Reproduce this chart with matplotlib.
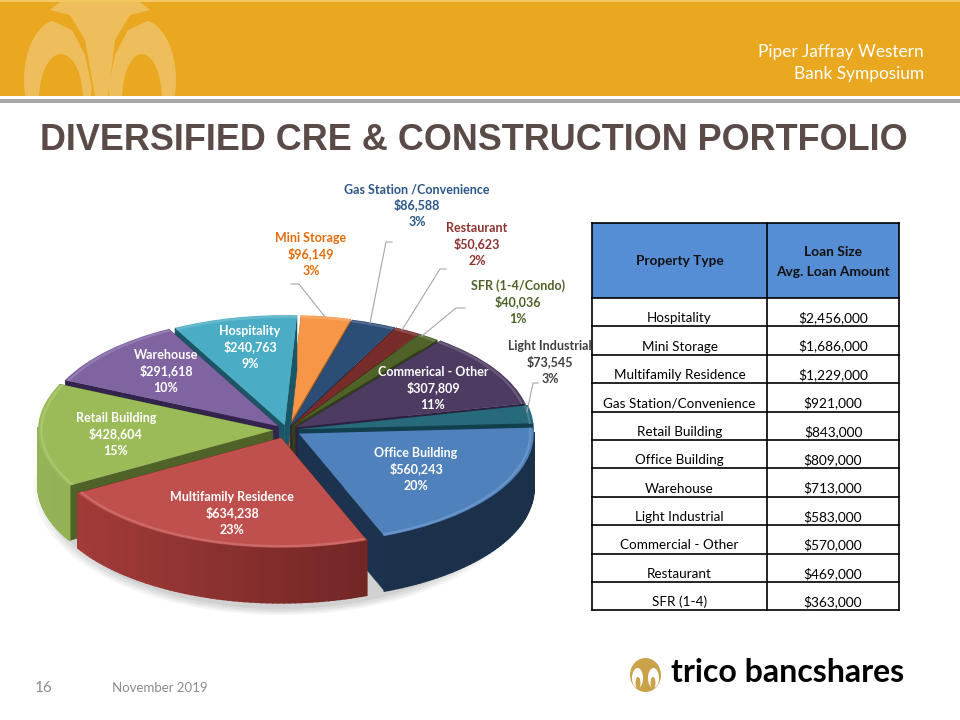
#!/usr/bin/env python3

import numpy as np
import matplotlib
matplotlib.use("Agg")
import matplotlib.pyplot as plt
from matplotlib.patches import Ellipse, Polygon, Rectangle

# pie data, clockwise from 12 o'clock
slice_names = ["Mini Storage", "Gas Station /Convenience", "Restaurant", "SFR (1-4/Condo)",
               "Commerical - Other", "Light Industrial", "Office Building",
               "Multifamily Residence", "Retail Building", "Warehouse", "Hospitality"]
slice_values = [96149, 86588, 50623, 40036, 307809, 73545, 560243, 634238, 428604, 291618, 240763]
slice_pcts = ["3%", "3%", "2%", "1%", "11%", "3%", "20%", "23%", "15%", "10%", "9%"]

# table data
table_types = ["Hospitality", "Mini Storage", "Multifamily Residence", "Gas Station/Convenience",
               "Retail Building", "Office Building", "Warehouse", "Light Industrial",
               "Commercial - Other", "Restaurant", "SFR (1-4)"]
table_amounts = ["$2,456,000", "$1,686,000", "$1,229,000", "$921,000", "$843,000", "$809,000",
                 "$713,000", "$583,000", "$570,000", "$469,000", "$363,000"]

# styles
top_colors = ["#F79646", "#2C4D75", "#772C2A", "#4F6228", "#4D3B62", "#276A7C",
              "#4F81BD", "#C0504D", "#9BBB59", "#8064A2", "#4BACC6"]
wall_colors = ["#B5651D", "#1C3350", "#4F1D1C", "#333F1A", "#2D2040", "#123F4C",
               "#1C3350", "#6E2220", "#4F6228", "#33244D", "#1B5666"]
arc_left = ["#D98030", "#1F3A5C", "#5A1F1E", "#3E4E20", "#35264C", "#1C4E5C",
            "#1C3350", "#A83E3B", "#94B356", "#5F4A80", "#2F7F95"]
arc_right = ["#D98030", "#1F3A5C", "#5A1F1E", "#3E4E20", "#35264C", "#1C4E5C",
             "#1B3049", "#581C1B", "#86A34A", "#5F4A80", "#2F7F95"]
explode = [0.045, 0.04, 0.04, 0.04, 0.045, 0.05, 0.06, 0.075, 0.06, 0.05, 0.045]

label_xy = [(311, 254), (417, 205), (477, 244), (518, 302), (433, 388), (550, 362),
            (416, 469), (232, 513), (116, 434), (166, 371), (250, 347)]
label_colors = ["#E46C0A", "#2A5688", "#8E3230", "#4F6228", "white", "#404040",
                "white", "white", "white", "white", "white"]
leaders = [[(291, 284), (299, 284), (325, 317)],
           [(392, 242), (386, 242), (370, 323)],
           [(446, 269), (440, 269), (402, 330)],
           [(465, 308), (456, 308), (422, 336)],
           [(538, 383), (533, 383), (527, 412)]]

W, H = 960, 720
PIE_X, PIE_Y, RX, RY, DEPTH = 287, 430, 235, 110, 0.5
LINE_GAP = 16.3
GOLD, PALE = "#E9A820", "#EEBD5C"

plt.rcParams["font.family"] = ["Lato", "DejaVu Sans"]
fig = plt.figure(figsize=(9.6, 7.2), dpi=100, facecolor="white")


def pixel_axes(z):
    ax = fig.add_axes([0, 0, 1, 1], zorder=z)
    ax.set_xlim(0, W)
    ax.set_ylim(H, 0)
    ax.axis("off")
    return ax


bg = pixel_axes(0)
pie_ax = fig.add_axes([0, 0, 1, 1], zorder=1)
fg = pixel_axes(2)

# header band with the faded emblem
band = Rectangle((0, 2), W, 94, fc=GOLD, ec="none")
bg.add_patch(band)
bg.add_patch(Rectangle((0, 0), W, 2, fc="#F3C860", ec="none"))
bg.add_patch(Rectangle((0, 99), W, 4, fc="#A6A6A6", ec="none"))
for xy, w, h, col in [((58, 80), 68, 120, PALE), ((142, 80), 68, 120, PALE),
                      ((61, 100), 44, 92, GOLD), ((142, 100), 40, 92, GOLD)]:
    e = Ellipse(xy, w, h, fc=col, ec="none")
    bg.add_patch(e)
    e.set_clip_path(band)
emblem = [([(50, 10), (100, 10), (100, 90), (92, 88), (85, 55), (72, 30), (50, 20)], GOLD),
          ([(150, 10), (100, 10), (100, 90), (108, 88), (115, 55), (128, 30), (150, 20)], GOLD),
          ([(60, 2), (140, 2), (150, 10), (130, 15), (115, 40), (108, 96), (95, 96),
            (85, 40), (70, 15), (50, 10)], PALE)]
for pts, col in emblem:
    bg.add_patch(Polygon(pts, fc=col, ec="none"))
bg.text(924, 57, "Piper Jaffray Western", color="white", fontsize=12.4, ha="right", va="baseline")
bg.text(924, 79, "Bank Symposium", color="white", fontsize=12.4, ha="right", va="baseline")

bg.text(474, 140, "DIVERSIFIED CRE & CONSTRUCTION PORTFOLIO", family="Liberation Sans",
        fontweight="bold", fontsize=25.9, color="#5A4A48", ha="center", va="center")

# pie shadow
for grow, alpha in [(1.05, 0.05), (1.035, 0.06), (1.02, 0.07), (1.0, 0.08)]:
    bg.add_patch(Ellipse((PIE_X - 6, PIE_Y + 58), 2 * RX * grow, 2 * RY * 1.1 * grow,
                         fc="#404040", ec="none", alpha=alpha))

# pie, unit circle squashed by the axes limits
wedges, _ = pie_ax.pie(slice_values, explode=explode, colors=top_colors, startangle=87,
                       counterclock=False, wedgeprops={"edgecolor": "none"})
pie_ax.set_aspect("auto")
pie_ax.set_xlim(-PIE_X / RX, (W - PIE_X) / RX)
pie_ax.set_ylim((PIE_Y - H) / RY, PIE_Y / RY)
pie_ax.patch.set_alpha(0)
pie_ax.axis("off")


def mix(c1, c2, f):
    a, b = np.array(matplotlib.colors.to_rgb(c1)), np.array(matplotlib.colors.to_rgb(c2))
    return tuple(a + (b - a) * f)


mids = [(w.theta1 + w.theta2) / 2 for w in wedges]
order = np.argsort([-np.sin(np.radians(m)) for m in mids])
for rank, i in enumerate(order):
    w = wedges[i]
    z = 2 + rank * 3
    cx, cy = w.center
    w.set_zorder(z + 2)
    # cut faces
    for ang in (w.theta1, w.theta2):
        px = cx + np.cos(np.radians(ang))
        py = cy + np.sin(np.radians(ang))
        pie_ax.add_patch(Polygon([(cx, cy), (px, py), (px, py - DEPTH), (cx, cy - DEPTH)],
                                 fc=wall_colors[i], ec=wall_colors[i], lw=0.3, zorder=z))
    # outer rim, shaded left to right
    ts = np.radians(np.linspace(w.theta1, w.theta2, 60))
    for t0, t1 in zip(ts[:-1], ts[1:]):
        if np.sin((t0 + t1) / 2) > 0.02:
            continue
        f = (1 - np.cos((t0 + t1) / 2)) / 2
        col = mix(arc_right[i], arc_left[i], f)
        x0, x1 = cx + np.cos(t0), cx + np.cos(t1)
        y0, y1 = cy + np.sin(t0), cy + np.sin(t1)
        pie_ax.add_patch(Polygon([(x0, y0), (x1, y1), (x1, y1 - DEPTH), (x0, y0 - DEPTH)],
                                 fc=col, ec=col, lw=1.2, zorder=z + 1))
    # bevel on the top face
    pie_ax.plot(cx + 0.985 * np.cos(ts), cy + 0.985 * np.sin(ts), color=mix(top_colors[i], "white", 0.2),
                lw=1.6, alpha=0.8, zorder=z + 2.5, solid_capstyle="butt")

# pie labels and leader lines, one text per line
for pts in leaders:
    xs, ys = zip(*pts)
    fg.plot(xs, ys, color="#A6A6A6", lw=0.8)
for name, val, pct, (x, y), col in zip(slice_names, slice_values, slice_pcts, label_xy, label_colors):
    for k, line in enumerate([name, f"${val:,}", pct]):
        fg.text(x, y + 4.5 + (k - 1) * LINE_GAP, line, color=col, fontweight="bold", fontsize=9.0,
                ha="center", va="baseline")

# table
TX0, TX1, TX2, HEAD_TOP, HEAD_BOT, ROW_H = 592, 767, 899, 223, 298, 28.4
bg.add_patch(Rectangle((TX0, HEAD_TOP), TX2 - TX0, HEAD_BOT - HEAD_TOP, fc="#558ED5", ec="none"))
bottom = HEAD_BOT + ROW_H * len(table_types)
bg.plot([TX0, TX2], [HEAD_TOP, HEAD_TOP], color="black", lw=1.2)
for r in range(len(table_types) + 1):
    y = HEAD_BOT + r * ROW_H
    bg.plot([TX0, TX2], [y, y], color="black", lw=1.2)
for x in (TX0, TX1, TX2):
    bg.plot([x, x], [HEAD_TOP, bottom], color="black", lw=1.2)
bg.text((TX0 + TX1) / 2, 265, "Property Type", fontweight="bold", fontsize=9.8, color="#111111",
        ha="center", va="baseline")
bg.text((TX1 + TX2) / 2, 256, "Loan Size", fontweight="bold", fontsize=9.9, color="#111111",
        ha="center", va="baseline")
bg.text((TX1 + TX2) / 2, 276, "Avg. Loan Amount", fontweight="bold", fontsize=9.9, color="#111111",
        ha="center", va="baseline")
for r, (name, amount) in enumerate(zip(table_types, table_amounts)):
    y = HEAD_BOT + (r + 0.85) * ROW_H
    bg.text((TX0 + TX1) / 2, y, name, fontsize=9.7, color="black", ha="center", va="baseline")
    bg.text((TX1 + TX2) / 2, y, amount, fontsize=9.9, color="black", ha="center", va="baseline")

# footer
bg.text(35, 688, "16", fontsize=11, color="#8C8C8C", ha="left", va="center")
bg.text(112, 688, "November 2019", fontsize=9.5, color="#8C8C8C", ha="left", va="center")
bg.add_patch(Ellipse((645.5, 675), 31, 34, fc="#C9A24A", ec="none"))
for xy, w, h, col in [((637.5, 678), 11, 20, "white"), ((653.5, 678), 11, 20, "white"),
                      ((638, 683), 5, 12, "#C9A24A"), ((653, 683), 5, 12, "#C9A24A")]:
    bg.add_patch(Ellipse(xy, w, h, fc=col, ec="none"))
bg.text(671, 673, "trico bancshares", fontsize=23, fontweight="bold", color="black", ha="left", va="center")

fig.savefig("out.png", dpi=100)
